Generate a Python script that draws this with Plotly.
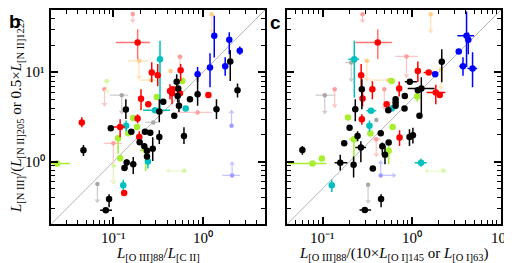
import math
import plotly.graph_objects as go

# ---------------- data : panel b (x = L[OIII]88 / L[CII]) ----------------
b_black_x = [0.138, 0.879, 2.04, 2.46, 1.43, 0.512, 0.533, 0.525, 0.543, 0.481, 0.721, 0.362, 0.327, 0.0935, 0.159,
             0.226, 0.259, 0.197, 0.222, 0.238, 0.276, 0.238, 0.0462, 0.141, 0.133, 0.167, 0.0895, 0.0822, 0.327, 0.618]
b_black_y = [3.85, 5.71, 13.3, 6.34, 3.88, 7.85, 6.62, 5.47, 4.23, 3.27, 5.02, 4.69, 3.66, 2.38, 2.17,
             2.17, 2.11, 1.66, 1.49, 1.33, 1.40, 1.15, 1.35, 0.984, 0.851, 0.942, 0.383, 0.288, 1.90, 1.94]
b_black_ylo = [3.01, 4.23, 8.05, 5.25, 3.01, 6.18, None, 4.6, 3.6, None, None, None, 2.78, None, None,
               None, None, None, None, None, 1.02, None, 1.16, 0.83, None, 0.73, 0.311, None, 1.58, 1.58]
b_black_yhi = [5.02, 8.93, 17.7, 7.53, 5.02, 9.57, None, 6.5, 5.0, None, None, None, 5.0, None, None,
               None, None, None, None, None, 1.89, None, 1.54, 1.07, None, 1.13, 0.435, None, 2.26, 2.44]
b_black_xlo = [None] * 27 + [0.071, None, None]
b_black_xhi = [None] * 27 + [0.0966, None, None]

b_red_x = [0.269, 0.204, 0.246, 0.187, 0.314, 0.567, 0.431, 0.462, 0.454, 0.557, 1.16, 0.0443, 0.119, 0.195, 0.132]
b_red_y = [10.0, 5.07, 4.42, 3.05, 9.33, 10.6, 6.22, 6.5, 5.86, 5.86, 5.61, 2.76, 2.46, 1.90, 0.447]
b_red_ylo = [7.78, 3.78, None, 2.7, 7.03, 8.0, 5.0, None, 4.42, None, None, 2.44, 1.89, 1.6, None]
b_red_yhi = [13.0, 6.50, None, 3.4, 12.4, 12.4, 7.4, None, 6.9, None, None, 3.16, 3.0, 2.2, None]
b_red_xlo = [None] * 12 + [0.099, None, None]
b_red_xhi = [None] * 12 + [0.135, None, None]

b_redf_x = [0.187]
b_redf_y = [21.7]
b_redf_xlo = [0.107]
b_redf_xhi = [0.257]
b_redf_ylo = [14.1]
b_redf_yhi = [30.5]

b_blue_x = [1.35, 1.99, 2.61, 1.21, 1.79, 0.879]
b_blue_y = [25.7, 23.2, 17.5, 11.4, 11.7, 9.57]
b_blue_ylo = [14.7, 16.0, 15.8, 6.85, 9.2, 7.8]
b_blue_yhi = [43.0, 28.2, 19.5, 16.4, 14.8, 11.5]

b_cyan_x = [0.333, 0.293, 0.646, 0.139, 0.244, 0.129]
b_cyan_y = [14.1, 3.78, 3.96, 2.53, 1.01, 0.548]
b_cyan_ylo = [3.72, None, None, 2.2, 0.84, 0.48]
b_cyan_yhi = [22.6, None, None, 2.9, 1.15, 0.63]
b_cyan_xlo = [0.31, 0.215, None, None, None, None]
b_cyan_xhi = [0.36, 0.431, None, None, None, None]

b_lime_x = [0.591, 0.306, 0.167, 0.184, 0.147, 0.113, 0.230, 0.0233, 0.119]
b_lime_y = [8.05, 5.33, 3.10, 2.46, 2.09, 1.84, 1.35, 0.96, 1.10]
b_lime_ylo = [None, None, None, None, None, 1.22, 0.79, None, None]
b_lime_yhi = [None, None, None, None, None, 2.0, 1.45, None, None]
b_lime_xlo = [None, None, None, None, None, None, 0.20, 0.0195, None]
b_lime_xhi = [None, None, None, None, None, None, 0.27, 0.0328, None]

# limits (faint symbols with arrows): value, x-range, arrow tip
b_pink_x = [0.165, 0.0795, 0.557, 0.100, 0.879]
b_pink_y = [45.0, 6.50, 15.0, 1.61, 3.57]
b_pink_xlo = [None, 0.075, 0.52, 0.078, 0.516]
b_pink_xhi = [None, 0.085, 0.60, 0.125, 1.27]
b_pink_ytip = [37.8, 4.42, 10.6, 0.593, None]
b_pink_xtip = [None, None, None, None, None]

b_orng_x = [1.26, 0.194, 0.264, 0.438]
b_orng_y = [44.9, 13.5, 8.2, 10.4]
b_orng_xlo = [None, 0.145, 0.199, None]
b_orng_xhi = [None, 0.246, 0.30, None]
b_orng_ytip = [29.2, 8.86, None, None]
b_orng_xtip = [None, None, None, None]

b_llim_x = [0.0844, 0.101, 0.623]
b_llim_y = [8.05, 0.902, 0.793]
b_llim_xlo = [0.078, None, None]
b_llim_xhi = [0.092, None, None]
b_llim_ytip = [6.18, 0.593, None]
b_llim_xtip = [None, None, 0.412]

b_gray_x = [0.124, 0.280, 0.0662]
b_gray_y = [5.57, 2.76, 0.564]
b_gray_xlo = [0.0919, 0.226, None]
b_gray_xhi = [0.146, 0.317, None]
b_gray_ytip = [3.6, None, 0.367]
b_gray_xtip = [None, None, None]

b_lblu_x = [2.11, 2.14]
b_lblu_y = [2.53, 0.705]
b_lblu_xlo = [None, 1.67]
b_lblu_xhi = [None, 2.61]
b_lblu_ytip = [3.6, 0.96]
b_lblu_xtip = [None, None]

# ---------------- data : panel c (x = L[OIII]88 / (10 L[OI]145 or L[OI]63)) ----------------
c_black_x = [2.17, 0.950, 1.28, 1.17, 0.836, 0.276, 0.659, 0.659, 0.659, 0.233, 0.546, 0.830, 1.22, 0.201, 0.247,
             0.449, 0.175, 0.269, 0.468, 0.501, 0.551, 0.0595, 0.158, 0.223, 0.366, 0.453, 0.298, 0.943, 1.03]
c_black_y = [13.2, 7.85, 6.62, 6.34, 5.47, 6.50, 5.02, 4.61, 4.23, 3.88, 3.78, 3.96, 3.27, 2.40, 1.95,
             2.09, 1.61, 1.45, 1.49, 1.20, 1.65, 1.36, 0.975, 0.926, 0.844, 0.383, 0.29, 1.90, 1.99]
c_black_ylo = [7.78, None, 3.41, None, None, 3.88, None, None, None, 2.85, None, None, None, None, 1.7,
               None, None, 0.99, 1.2, 0.94, None, 1.2, 0.8, 0.67, None, 0.31, None, 1.5, 1.6]
c_black_yhi = [18.2, None, 8.86, None, None, 8.41, None, None, None, 5.02, None, None, None, None, 2.2,
               None, None, 1.70, 1.65, 1.50, None, 1.5, 1.2, 1.15, None, 0.435, None, 2.32, 2.4]
c_black_xlo = [None, 0.836, 0.90] + [None] * 14 + [0.233] + [None] * 4 + [0.137] + [None] * 3 + [0.26, None, None]
c_black_xhi = [None, 1.14, 1.80] + [None] * 14 + [0.308] + [None] * 4 + [0.19] + [None] * 3 + [0.35, None, None]

c_red_x = [1.17, 1.55, 0.271, 0.362, 0.723, 1.86, 2.06, 0.281, 0.523, 0.276, 0.730]
c_red_y = [10.4, 10.0, 9.33, 6.5, 6.62, 5.97, 5.61, 5.12, 4.42, 3.0, 1.87]
c_red_ylo = [7.8, None, 6.5, 5.0, 5.4, 4.4, None, 4.2, None, 2.6, 1.5]
c_red_yhi = [13.3, None, 12.4, 8.0, 7.9, 7.3, None, 6.0, None, 3.4, 2.26]
c_red_xlo = [None, 1.36, None, None, None, 1.47, None, None, None, None, None]
c_red_xhi = [None, 1.75, None, None, None, 2.38, None, None, None, None, None]

c_redf_x = [0.416]
c_redf_y = [21.7]
c_redf_xlo = [0.233]
c_redf_xhi = [0.60]
c_redf_ylo = [14.1]
c_redf_yhi = [30.5]

c_blue_x = [4.11, 4.30, 3.36, 3.75, 4.80, 1.83]
c_blue_y = [25.7, 23.2, 17.2, 11.7, 11.1, 9.57]
c_blue_ylo = [11.9, 16.0, None, 9.2, 6.85, None]
c_blue_yhi = [48.0, 28.0, None, 14.8, 16.8, None]
c_blue_xlo = [3.24, None, None, 3.4, 4.2, 1.7]
c_blue_xhi = [5.0, None, None, 4.2, 5.4, 1.95]

c_cyan_x = [0.227, 0.350, 0.595, 0.336, 0.127, 1.27]
c_cyan_y = [14.1, 3.72, 3.96, 2.53, 0.548, 0.975]
c_cyan_ylo = [5.25, None, None, 2.2, 0.46, 0.88]
c_cyan_yhi = [22.6, None, None, 2.9, 0.63, 1.08]
c_cyan_xlo = [0.195, 0.31, 0.52, None, None, 1.08]
c_cyan_xhi = [0.258, 0.40, 0.68, None, None, 1.47]

c_lime_x = [0.595, 1.15, 0.193, 0.610, 0.344, 0.225, 0.551, 0.0983, 0.0774]
c_lime_y = [8.05, 5.38, 3.14, 2.46, 2.08, 1.79, 1.33, 1.09, 0.96]
c_lime_ylo = [None, 4.7, None, None, None, 1.03, 0.94, None, None]
c_lime_yhi = [None, 6.1, None, None, None, 1.95, 1.5, None, None]
c_lime_xlo = [None, None, None, None, None, 0.20, None, None, 0.041]
c_lime_xhi = [None, None, None, None, None, 0.25, None, None, 0.111]

c_pink_x = [0.281, 0.873, 0.492, 0.137, 0.40]
c_pink_y = [44.9, 15.1, 6.5, 6.5, 1.79]
c_pink_xlo = [None, 0.647, None, None, 0.36]
c_pink_xhi = [None, 1.17, None, None, 0.45]
c_pink_ytip = [37.8, 9.18, 4.06, 4.23, 1.2]
c_pink_xtip = [None, None, None, None, None]

c_orng_x = [1.63, 0.314, 0.55, 2.12]
c_orng_y = [44.9, 13.5, 8.2, 10.8]
c_orng_xlo = [None, 0.29, 0.34, None]
c_orng_xhi = [None, 0.34, 0.60, None]
c_orng_ytip = [29.2, 8.4, None, 6.8]
c_orng_xtip = [None, None, None, None]

c_gray_x = [0.210, 0.106, 0.401, 0.324]
c_gray_y = [12.9, 5.57, 2.93, 0.553]
c_gray_xlo = [0.18, 0.0836, None, None]
c_gray_xhi = [0.24, 0.139, None, None]
c_gray_ytip = [8.3, 3.6, None, 0.36]
c_gray_xtip = [None, None, None, None]

c_llim_x = [2.27]
c_llim_y = [0.793]
c_llim_xlo = [None]
c_llim_xhi = [None]
c_llim_ytip = [None]
c_llim_xtip = [1.47]

c_lblu_x = [0.449]
c_lblu_y = [0.705]
c_lblu_xlo = [None]
c_lblu_xhi = [None]
c_lblu_ytip = [0.98]
c_lblu_xtip = [0.63]

# axis ranges, ticks and reference lines (y = ratio * x)
b_xrange = [0.02, 5.0]
c_xrange = [0.04, 10.0]
y_range = [0.2, 50.0]
b_xticks = [0.1, 1]
c_xticks = [0.1, 1, 10]
y_ticks = [1, 10]
tick_text = {0.1: "10⁻¹", 1: "10⁰", 10: "10¹"}
b_ratio = 10.0
c_ratio = 5.0

# ---------------- figure ----------------
# page is 512x263; the html body adds an 8px margin, so the figure is 504x255 placed at (8, 8)
PW, PH, OFF = 512, 263, 8
FW, FH = PW - OFF, PH - OFF
fig = go.Figure()
SERIF = "Liberation Serif"


def px(p):
    return (p - OFF) / FW


def py(p):
    return 1 - (p - OFF) / FH


def errs(v, lo, hi):
    minus = [0 if l is None else vv - l for vv, l in zip(v, lo)]
    plus = [0 if h is None else h - vv for vv, h in zip(v, hi)]
    return plus, minus


def add_pts(x, y, xlo, xhi, ylo, yhi, color, ecolor, ax, size=6.5, ew=1.5):
    yp, ym = errs(y, ylo, yhi)
    xp, xm = errs(x, xlo, xhi)
    fig.add_trace(go.Scatter(
        x=x, y=y, mode="markers", xaxis=ax[0], yaxis=ax[1],
        marker=dict(color=color, size=size, line=dict(width=0)),
        error_y=dict(type="data", symmetric=False, array=yp, arrayminus=ym,
                     color=ecolor, thickness=ew, width=0),
        error_x=dict(type="data", symmetric=False, array=xp, arrayminus=xm,
                     color=ecolor, thickness=ew, width=0),
        showlegend=False, hoverinfo="skip"))


def add_lim(x, y, xlo, xhi, ytip, xtip, mcolor, lcolor, ax):
    ylo = [t if (t is not None and t < v) else None for v, t in zip(y, ytip)]
    yhi = [t if (t is not None and t > v) else None for v, t in zip(y, ytip)]
    xlo2 = [t if (t is not None and t < v) else l for v, t, l in zip(x, xtip, xlo)]
    xhi2 = [t if (t is not None and t > v) else h for v, t, h in zip(x, xtip, xhi)]
    add_pts(x, y, xlo2, xhi2, ylo, yhi, mcolor, lcolor, ax, size=4.5, ew=1.2)
    ax_, ay_, sym = [], [], []
    for v, w, t in zip(x, y, ytip):
        if t is not None:
            ax_.append(v); ay_.append(t); sym.append("triangle-down" if t < w else "triangle-up")
    for v, w, t in zip(x, y, xtip):
        if t is not None:
            ax_.append(t); ay_.append(w); sym.append("triangle-left" if t < v else "triangle-right")
    if ax_:
        fig.add_trace(go.Scatter(x=ax_, y=ay_, mode="markers", xaxis=ax[0], yaxis=ax[1],
                                 marker=dict(symbol=sym, color=lcolor, size=5, line=dict(width=0)),
                                 showlegend=False, hoverinfo="skip"))


BLACK, RED, BLUE, CYAN, LIME = "#000000", "#ff0000", "#0000ff", "#00bfbf", "#a6ee2e"
PINK_M, PINK_L = "#ff9c9c", "#ffc4c4"
ORNG_M, ORNG_L = "#ffcf8a", "#ffe2b8"
GRAY_M, GRAY_L = "#a8a8a8", "#cdcdcd"
LLIM_M, LLIM_L = "#d6f7a6", "#e6fbc9"
LBLU_M, LBLU_L = "#9d9dff", "#c4c4ff"

for ax, xr, ratio in ((("x", "y"), b_xrange, b_ratio), (("x2", "y2"), c_xrange, c_ratio)):
    fig.add_trace(go.Scatter(x=xr, y=[ratio * v for v in xr], mode="lines", xaxis=ax[0], yaxis=ax[1],
                             line=dict(color="#b4b4b4", width=1), showlegend=False, hoverinfo="skip"))

AB = ("x", "y")
AC = ("x2", "y2")
# panel b
add_lim(b_pink_x, b_pink_y, b_pink_xlo, b_pink_xhi, b_pink_ytip, b_pink_xtip, PINK_M, PINK_L, AB)
add_lim(b_orng_x, b_orng_y, b_orng_xlo, b_orng_xhi, b_orng_ytip, b_orng_xtip, ORNG_M, ORNG_L, AB)
add_lim(b_llim_x, b_llim_y, b_llim_xlo, b_llim_xhi, b_llim_ytip, b_llim_xtip, LLIM_M, LLIM_L, AB)
add_lim(b_gray_x, b_gray_y, b_gray_xlo, b_gray_xhi, b_gray_ytip, b_gray_xtip, GRAY_M, GRAY_L, AB)
add_lim(b_lblu_x, b_lblu_y, b_lblu_xlo, b_lblu_xhi, b_lblu_ytip, b_lblu_xtip, LBLU_M, LBLU_L, AB)
add_pts(b_redf_x, b_redf_y, b_redf_xlo, b_redf_xhi, b_redf_ylo, b_redf_yhi, RED, "rgba(255,0,0,0.55)", AB)
add_pts(b_lime_x, b_lime_y, b_lime_xlo, b_lime_xhi, b_lime_ylo, b_lime_yhi, LIME, LIME, AB)
add_pts(b_cyan_x, b_cyan_y, b_cyan_xlo, b_cyan_xhi, b_cyan_ylo, b_cyan_yhi, CYAN, CYAN, AB)
add_pts(b_red_x, b_red_y, b_red_xlo, b_red_xhi, b_red_ylo, b_red_yhi, RED, RED, AB)
add_pts(b_blue_x, b_blue_y, [None] * len(b_blue_x), [None] * len(b_blue_x), b_blue_ylo, b_blue_yhi, BLUE, BLUE, AB)
add_pts(b_black_x, b_black_y, b_black_xlo, b_black_xhi, b_black_ylo, b_black_yhi, BLACK, BLACK, AB)
# panel c
add_lim(c_pink_x, c_pink_y, c_pink_xlo, c_pink_xhi, c_pink_ytip, c_pink_xtip, PINK_M, PINK_L, AC)
add_lim(c_orng_x, c_orng_y, c_orng_xlo, c_orng_xhi, c_orng_ytip, c_orng_xtip, ORNG_M, ORNG_L, AC)
add_lim(c_llim_x, c_llim_y, c_llim_xlo, c_llim_xhi, c_llim_ytip, c_llim_xtip, LLIM_M, LLIM_L, AC)
add_lim(c_gray_x, c_gray_y, c_gray_xlo, c_gray_xhi, c_gray_ytip, c_gray_xtip, GRAY_M, GRAY_L, AC)
add_lim(c_lblu_x, c_lblu_y, c_lblu_xlo, c_lblu_xhi, c_lblu_ytip, c_lblu_xtip, LBLU_M, LBLU_L, AC)
add_pts(c_redf_x, c_redf_y, c_redf_xlo, c_redf_xhi, c_redf_ylo, c_redf_yhi, RED, "rgba(255,0,0,0.55)", AC)
add_pts(c_lime_x, c_lime_y, c_lime_xlo, c_lime_xhi, c_lime_ylo, c_lime_yhi, LIME, LIME, AC)
add_pts(c_cyan_x, c_cyan_y, c_cyan_xlo, c_cyan_xhi, c_cyan_ylo, c_cyan_yhi, CYAN, CYAN, AC)
add_pts(c_red_x, c_red_y, c_red_xlo, c_red_xhi, c_red_ylo, c_red_yhi, RED, RED, AC)
add_pts(c_blue_x, c_blue_y, c_blue_xlo, c_blue_xhi, c_blue_ylo, c_blue_yhi, BLUE, BLUE, AC)
add_pts(c_black_x, c_black_y, c_black_xlo, c_black_xhi, c_black_ylo, c_black_yhi, BLACK, BLACK, AC)

minor = dict(ticks="inside", ticklen=4, tickwidth=1, tickcolor="black", dtick="D1", showgrid=False)
common = dict(type="log", showline=True, linecolor="black", linewidth=1.8, mirror="allticks",
              ticks="inside", ticklen=7, tickwidth=1.6, tickcolor="black", showgrid=False, zeroline=False,
              showticklabels=False, minor=minor)

fig.update_layout(
    width=FW, height=FH, margin=dict(l=0, r=0, t=0, b=0),
    paper_bgcolor="white", plot_bgcolor="white",
    xaxis=dict(common, domain=[px(51), px(265)], range=[math.log10(v) for v in b_xrange],
               tickvals=b_xticks, anchor="y"),
    yaxis=dict(common, domain=[py(224.3), py(10)], range=[math.log10(v) for v in y_range],
               tickvals=y_ticks, anchor="x"),
    xaxis2=dict(common, domain=[px(287), px(501)], range=[math.log10(v) for v in c_xrange],
                tickvals=c_xticks, anchor="y2"),
    yaxis2=dict(common, domain=[py(224.3), py(10)], range=[math.log10(v) for v in y_range],
                tickvals=y_ticks, anchor="x2"),
)

# tick labels (placed at the tick positions of each axis)
kfont = dict(family=SERIF, size=15, color="black")
for xref, ticks in (("x", b_xticks), ("x2", c_xticks)):
    for v in ticks:
        fig.add_annotation(x=math.log10(v), y=py(238), xref=xref, yref="paper", showarrow=False,
                           text=tick_text[v], font=kfont, xanchor="center", yanchor="middle")
for v in y_ticks:
    fig.add_annotation(x=px(47), y=math.log10(v), xref="paper", yref="y", showarrow=False,
                       text=tick_text[v], font=kfont, xanchor="right", yanchor="middle")

tfont = dict(family=SERIF, size=15, color="black")
fig.add_annotation(x=px(17), y=py(116), xref="paper", yref="paper", showarrow=False, textangle=-90,
                   text="<i>L</i><sub>[N III]</sub>/(<i>L</i><sub>[N II]205</sub> or 0.5×<i>L</i><sub>[N II]122</sub>)",
                   font=tfont, xanchor="center", yanchor="middle")
fig.add_annotation(x=px(158), y=py(254), xref="paper", yref="paper", showarrow=False,
                   text="<i>L</i><sub>[O III]88</sub>/<i>L</i><sub>[C II]</sub>",
                   font=tfont, xanchor="center", yanchor="middle")
fig.add_annotation(x=px(394), y=py(254), xref="paper", yref="paper", showarrow=False,
                   text="<i>L</i><sub>[O III]88</sub>/(10×<i>L</i><sub>[O I]145</sub> or <i>L</i><sub>[O I]63</sub>)",
                   font=tfont, xanchor="center", yanchor="middle")
fig.add_annotation(x=px(8), y=py(21), xref="paper", yref="paper", showarrow=False, text="<b>b</b>",
                   font=dict(family="Liberation Sans", size=19, color="black"), xanchor="left", yanchor="middle",
                   borderpad=0)
fig.add_annotation(x=px(268), y=py(22), xref="paper", yref="paper", showarrow=False, text="<b>c</b>",
                   font=dict(family="Liberation Sans", size=19, color="black"), xanchor="left", yanchor="middle")

fig.write_html("out.html")
